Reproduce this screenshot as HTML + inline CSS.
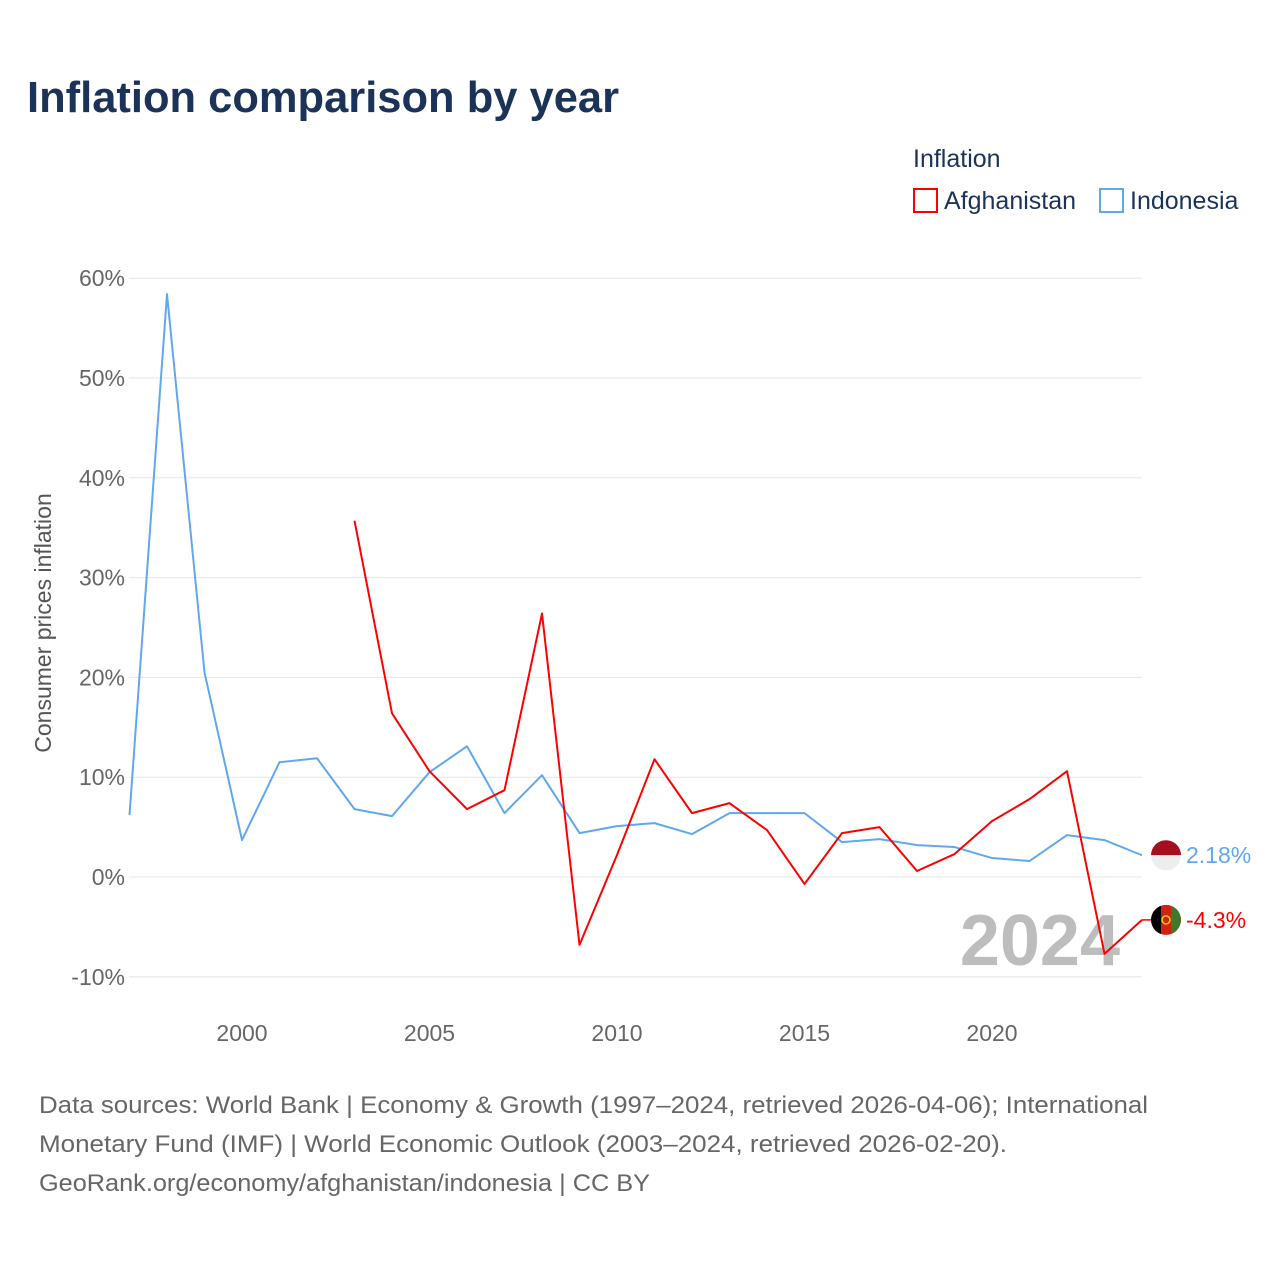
<!DOCTYPE html>
<html><head><meta charset="utf-8">
<style>
body{margin:0;background:#fff;font-family:"Liberation Sans",sans-serif;}
svg{display:block}
</style></head>
<body>
<svg width="1280" height="1280" viewBox="0 0 1280 1280" xmlns="http://www.w3.org/2000/svg">
<rect width="1280" height="1280" fill="#fff"/>
<text x="27" y="112" font-size="44" font-weight="bold" fill="#1b3358" textLength="592" lengthAdjust="spacingAndGlyphs">Inflation comparison by year</text>
<g>
<text x="913" y="167" font-size="25" fill="#1b3358">Inflation</text>
<g><rect x="914" y="189" width="23" height="23" fill="none" stroke="#ff0000" stroke-width="2"/><text x="944" y="209" font-size="25" fill="#1b3358">Afghanistan</text></g>
<g><rect x="1100" y="189" width="23" height="23" fill="none" stroke="#5fa8ee" stroke-width="2"/><text x="1130" y="209" font-size="25" fill="#1b3358">Indonesia</text></g>
</g>
<g id="grid"></g>
<g id="yticks"></g>
<g id="xticks"></g>
<text transform="translate(51,623) rotate(-90)" text-anchor="middle" font-size="23" fill="#555">Consumer prices inflation</text>
<text x="1120" y="965" text-anchor="end" font-size="72" font-weight="bold" fill="#bdbdbd">2024</text>
<g id="series"></g>
<g font-size="24" fill="#666">
<text x="39" y="1113" textLength="1109" lengthAdjust="spacingAndGlyphs">Data sources: World Bank | Economy &amp; Growth (1997–2024, retrieved 2026-04-06); International</text>
<text x="39" y="1152" textLength="968" lengthAdjust="spacingAndGlyphs">Monetary Fund (IMF) | World Economic Outlook (2003–2024, retrieved 2026-02-20).</text>
<text x="39" y="1191" textLength="611" lengthAdjust="spacingAndGlyphs">GeoRank.org/economy/afghanistan/indonesia | CC BY</text>
</g>
</svg>
<script>
const yTicks=[60,50,40,30,20,10,0,-10];
const xTicks=[2000,2005,2010,2015,2020];
const indoYears=[1997,1998,1999,2000,2001,2002,2003,2004,2005,2006,2007,2008,2009,2010,2011,2012,2013,2014,2015,2016,2017,2018,2019,2020,2021,2022,2023,2024];
const indoValues=[6.2,58.4,20.5,3.7,11.5,11.9,6.8,6.1,10.5,13.1,6.4,10.2,4.4,5.1,5.4,4.3,6.4,6.4,6.4,3.5,3.8,3.2,3.0,1.9,1.6,4.2,3.7,2.18];
const afgYears=[2003,2004,2005,2006,2007,2008,2009,2010,2011,2012,2013,2014,2015,2016,2017,2018,2019,2020,2021,2022,2023,2024];
const afgValues=[35.7,16.4,10.6,6.8,8.7,26.4,-6.8,2.2,11.8,6.4,7.4,4.7,-0.7,4.4,5.0,0.6,2.3,5.6,7.8,10.6,-7.7,-4.3];
const NS="http://www.w3.org/2000/svg";
const x=v=>129.5+(v-1997)*37.5;
const y=v=>877-v*9.98;
function mk(t,a,p){const e=document.createElementNS(NS,t);for(const k in a)e.setAttribute(k,a[k]);p.appendChild(e);return e;}
const grid=document.getElementById('grid'),yt=document.getElementById('yticks'),xt=document.getElementById('xticks'),s=document.getElementById('series');
yTicks.forEach(v=>{
 const l=mk('line',{x1:129,x2:1142,y1:y(v),y2:y(v),stroke:'#e6e6e6','stroke-width':1},grid);
 
 
 const t=mk('text',{x:125,y:y(v)+8,'text-anchor':'end','font-size':23,fill:'#666'},yt);
 t.textContent=v+'%';
 
 
});
xTicks.forEach(v=>{
 const t=mk('text',{x:x(v),y:1041,'text-anchor':'middle','font-size':23,fill:'#666'},xt);
 t.textContent=v;
 
 
});
function line(ys,vs,col,name){
 const p=mk('polyline',{points:ys.map((yr,i)=>x(yr)+','+y(vs[i])).join(' '),fill:'none',stroke:col,'stroke-width':2,'stroke-linejoin':'round'},s);
 
 
}
line(indoYears,indoValues,'#5fa8ee','indonesia-line');
line(afgYears,afgValues,'#ff0000','afghanistan-line');
const iv=indoValues[indoValues.length-1],av=afgValues[afgValues.length-1];
const fx=1166;
const gi=mk('g',{},s);


mk('path',{d:`M${fx-15},${y(iv)} a15,15 0 0 1 30,0 z`,fill:'#a50f1f'},gi);
mk('path',{d:`M${fx-15},${y(iv)} a15,15 0 0 0 30,0 z`,fill:'#eee'},gi);
const ti=mk('text',{x:1186,y:y(iv)+8,'font-size':23,fill:'#5fa8ee'},gi);ti.textContent=iv+'%';
const ga=mk('g',{},s);


const ay=y(av);
mk('line',{x1:1142,x2:1151,y1:ay,y2:ay,stroke:'#ff0000','stroke-width':1.5},ga);
mk('circle',{cx:fx,cy:ay,r:15,fill:'#d32011'},ga);
mk('path',{d:`M${fx-5},${ay-14.1} L${fx-5},${ay+14.1} A15,15 0 0 1 ${fx-5},${ay-14.1} z`,fill:'#000'},ga);
mk('path',{d:`M${fx+5},${ay-14.1} L${fx+5},${ay+14.1} A15,15 0 0 0 ${fx+5},${ay-14.1} z`,fill:'#3e7a2c'},ga);
mk('circle',{cx:fx,cy:ay,r:4,fill:'none',stroke:'#f2d200','stroke-width':1.5},ga);
const ta=mk('text',{x:1186,y:ay+8,'font-size':23,fill:'#ff0000'},ga);ta.textContent=av+'%';
</script>
</body></html>
